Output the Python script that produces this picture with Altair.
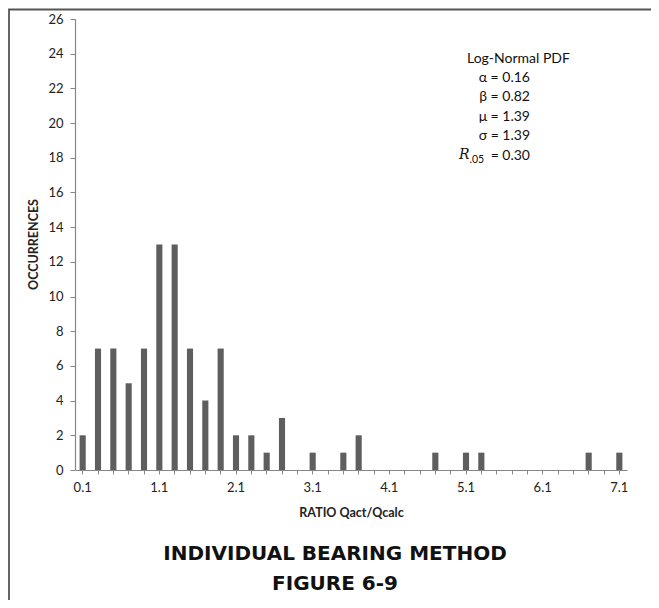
import altair as alt
import pandas as pd

# ---- data ----
ratio_bins = ["0.1", "0.3", "0.5", "0.7", "0.9", "1.1", "1.3", "1.5", "1.7", "1.9",
              "2.1", "2.3", "2.5", "2.7", "2.9", "3.1", "3.3", "3.5", "3.7", "3.9",
              "4.1", "4.3", "4.5", "4.7", "4.9", "5.1", "5.3", "5.5", "5.7", "5.9",
              "6.1", "6.3", "6.5", "6.7", "6.9", "7.1"]
occurrences = [2, 7, 7, 5, 7, 13, 13, 7, 4, 7,
               2, 2, 1, 3, 0, 1, 0, 1, 2, 0,
               0, 0, 0, 1, 0, 1, 1, 0, 0, 0,
               0, 0, 0, 1, 0, 1]
shown_labels = ["0.1", "1.1", "2.1", "3.1", "4.1", "5.1", "6.1", "7.1"]
y_ticks = [0, 2, 4, 6, 8, 10, 12, 14, 16, 18, 20, 22, 24, 26]

stats_title = "Log-Normal PDF"
stats_lines = ["α = 0.16", "β = 0.82", "μ = 1.39", "σ = 1.39"]
r_value = "= 0.30"
fig_title = ["INDIVIDUAL BEARING METHOD", "FIGURE 6-9"]

df = pd.DataFrame({"ratio": ratio_bins, "count": occurrences})

W, H = 552, 451
AXIS_GRAY = "#868686"
FONT = "Lato, 'Open Sans', sans-serif"

label_list = "[" + ",".join("'" + s + "'" for s in shown_labels) + "]"

bars = alt.Chart(df).mark_bar(color="#5e5e5e").encode(
    x=alt.X(
        "ratio:N",
        sort=ratio_bins,
        scale=alt.Scale(paddingInner=0.6, paddingOuter=0.3),
        axis=alt.Axis(
            title="RATIO Qact/Qcalc",
            zindex=1,
            labelAngle=0,
            labelExpr=f"indexof({label_list}, datum.label) >= 0 ? datum.label : ''",
            labelOverlap=False,
            labelFont=FONT, labelFontSize=13, labelColor="#222222",
            labelPadding=7,
            tickSize=4, tickColor=AXIS_GRAY,
            domainColor=AXIS_GRAY, domainWidth=1.2,
            titleFont=FONT, titleFontSize=12.5, titleFontWeight="bold", titleColor="#222222",
            titleBaseline="middle", titleY=42,
        ),
    ),
    y=alt.Y(
        "count:Q",
        scale=alt.Scale(domain=[0, 26], nice=False),
        axis=alt.Axis(
            title="OCCURRENCES",
            zindex=1,
            values=y_ticks,
            grid=False,
            labelFont=FONT, labelFontSize=13, labelColor="#222222",
            labelPadding=7,
            tickSize=5, tickColor=AXIS_GRAY,
            domainColor=AXIS_GRAY, domainWidth=1.2,
            titleFont=FONT, titleFontSize=12.5, titleFontWeight="bold", titleColor="#222222",
            titleAngle=270, titleAlign="center", titleBaseline="middle",
            titleX=-42, titleY=225,
        ),
    ),
)

def txt(s, x, y, align="left", size=14, weight="normal", style="normal",
        font=FONT, baseline="middle", color="#111111"):
    return alt.Chart(pd.DataFrame({"t": [s]})).mark_text(
        align=align, baseline=baseline, fontSize=size, fontWeight=weight,
        fontStyle=style, font=font, color=color,
    ).encode(x=alt.value(x), y=alt.value(y), text="t:N")

# picture frame (only its left and top edges fall inside the page)
frame = alt.Chart(pd.DataFrame({"a": [0]})).mark_rect(
    fill="white", stroke="#555555", strokeWidth=1.8
).encode(x=alt.value(-66), x2=alt.value(W + 300), y=alt.value(-9.5), y2=alt.value(H + 300))

layers = [frame, bars]
layers.append(txt(stats_title, 392, 39.5))
for i, line in enumerate(stats_lines):
    layers.append(txt(line, 455, 58.7 + 19.4 * i, align="right"))
layers.append(txt(r_value, 455, 136.5, align="right"))
layers.append(txt("R", 394.5, 136, align="right", size=14, style="italic",
                  font="'DejaVu Serif', serif"))
layers.append(txt(".05", 394.5, 140.5, align="left", size=10.5))
layers.append(txt(fig_title[0], 260, 534.5, align="center", size=20, weight="bold",
                  font="'DejaVu Sans', sans-serif", color="#111111"))
layers.append(txt(fig_title[1], 260, 564.5, align="center", size=20, weight="bold",
                  font="'DejaVu Sans', sans-serif", color="#111111"))

chart = alt.layer(*layers).properties(
    width=W, height=H,
    padding={"left": 67, "top": 11, "right": 24, "bottom": 130},
    autosize=alt.AutoSizeParams(type="none"),
    background="white",
).configure_view(stroke=None)

chart.save("out.html", embed_options={"renderer": "svg", "actions": False})
